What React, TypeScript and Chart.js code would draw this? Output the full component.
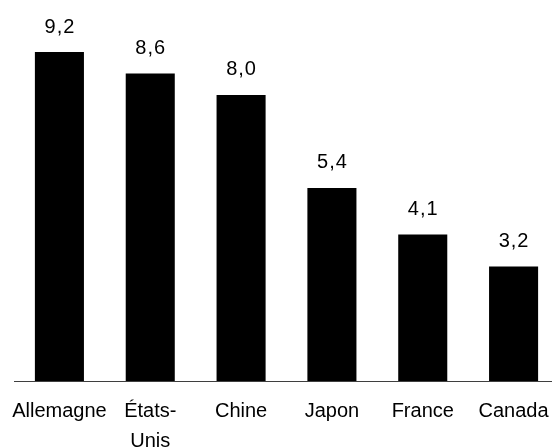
import React, { useEffect, useRef } from "react";
import { Chart, registerables } from "chart.js";

Chart.register(...registerables);

const categories: (string | string[])[] = ["Allemagne", ["États-", "Unis"], "Chine", "Japon", "France", "Canada"];
const values: number[] = [9.2, 8.6, 8.0, 5.4, 4.1, 3.2];
const yMax = 10;

const FONT = "'Liberation Sans', Arial, sans-serif";

const valueLabels = {
  id: "valueLabels",
  afterDatasetsDraw(chart: any) {
    const ctx = chart.ctx;
    const meta = chart.getDatasetMeta(0);
    ctx.save();
    ctx.font = `20px ${FONT}`;
    try { (ctx as any).letterSpacing = "1px"; } catch (e) {}
    ctx.fillStyle = "#000";
    ctx.textAlign = "center";
    ctx.textBaseline = "middle";
    meta.data.forEach((bar: any, i: number) => {
      const txt = values[i].toFixed(1).replace(".", ",");
      ctx.fillText(txt, bar.x + 0.5, bar.y - 25);
    });
    ctx.restore();
  },
};

export default function App() {
  const ref = useRef<HTMLCanvasElement | null>(null);
  useEffect(() => {
    if (!ref.current) return;
    const chart = new Chart(ref.current, {
      type: "bar",
      data: {
        labels: categories as any,
        datasets: [
          {
            data: values,
            backgroundColor: "#000",
            borderWidth: 0,
            categoryPercentage: 0.6,
            barPercentage: 0.9,
          },
        ],
      },
      options: {
        responsive: false,
        animation: false,
        layout: { padding: { left: 14, right: 1, top: 23.4, bottom: 0 } },
        plugins: { legend: { display: false }, tooltip: { enabled: false } },
        scales: {
          x: {
            grid: { display: false, drawTicks: false },
            border: { display: true, color: "#3f3f3f", width: 1 },
            ticks: {
              color: "#000",
              font: { family: FONT, size: 20, lineHeight: 1.5 },
              padding: 15,
              maxRotation: 0,
              autoSkip: false,
            },
            afterFit(scale: any) {
              scale.height = 67;
              scale.paddingLeft = 0;
              scale.paddingRight = 0;
            },
          },
          y: { display: false, min: 0, max: yMax },
        },
      },
      plugins: [valueLabels],
    });
    return () => chart.destroy();
  }, []);
  return (
    <div style={{ position: "fixed", left: 0, top: 0, width: 552, height: 448, overflow: "hidden", background: "#fff" }}>
      <canvas ref={ref} width={560} height={448} style={{ display: "block" }} />
    </div>
  );
}
